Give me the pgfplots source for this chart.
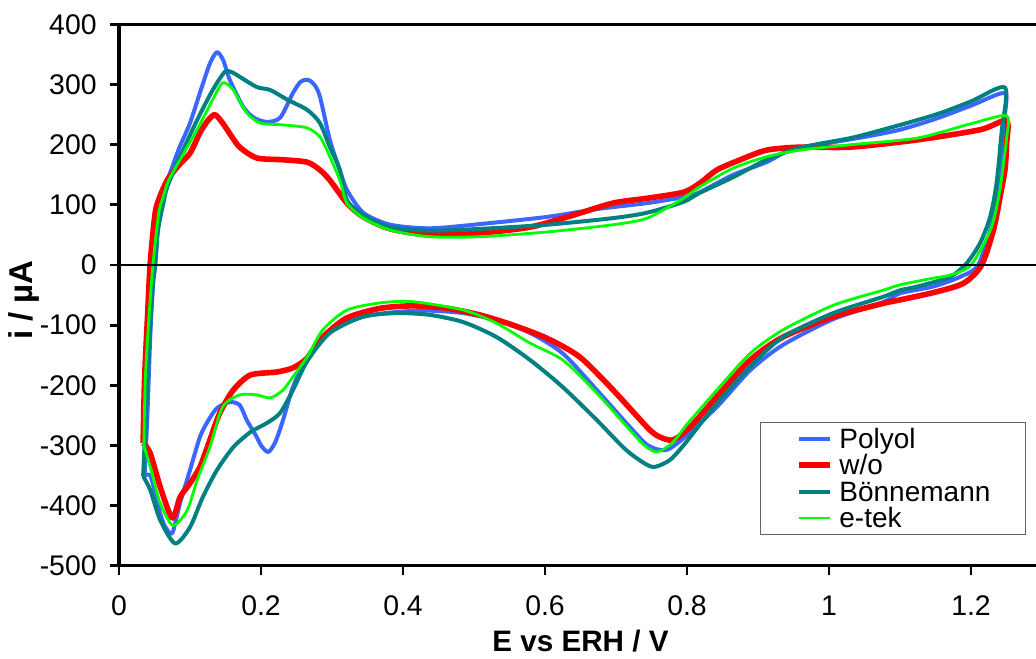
\documentclass[border=0pt]{standalone}
\usepackage{fontspec}
\setmainfont{Liberation Sans}
\usepackage{pgfplots}
\pgfplotsset{compat=1.18}
\definecolor{cPoly}{RGB}{59,102,255}
\definecolor{cWo}{RGB}{255,0,0}
\definecolor{cBon}{RGB}{0,128,128}
\definecolor{cEtek}{RGB}{0,255,0}
\definecolor{legbord}{RGB}{100,100,100}
\begin{document}
\begin{tikzpicture}
\begin{axis}[
  scale only axis,
  width=461.5pt, height=270.6pt,
  xmin=0, xmax=1.3, ymin=-500, ymax=400,
  xtick={0,0.2,0.4,0.6,0.8,1,1.2},
  xticklabels={0,0.2,0.4,0.6,0.8,1,1.2},
  ytick={-500,-400,-300,-200,-100,0,100,200,300,400},
  yticklabels={-500,-400,-300,-200,-100,0,100,200,300,400},
  axis line style={line width=1.6pt},
  tick style={line width=1.4pt, black},
  tick align=outside,
  major tick length=4.5pt,
  xtick pos=bottom, ytick pos=left,
  ticklabel style={font=\fontsize{14.2}{16}\selectfont, inner sep=0pt},
  /pgf/number format/assume math mode=true,
  yticklabel style={anchor=east, xshift=-6.5pt},
  xticklabel style={anchor=base, yshift=-20.2pt},
  xlabel={E vs ERH / V},
  ylabel={i / µA},
  xlabel style={font=\fontsize{14.8}{16}\selectfont\bfseries, at={(axis description cs:0.5,-0.1595)}, anchor=base},
  ylabel style={font=\fontsize{16.5}{18}\selectfont\bfseries, at={(axis description cs:-0.103,0.491)}, anchor=center},
  legend style={at={(axis description cs:0.9827,0.2655)}, anchor=north east,
    draw=legbord, line width=0.6pt, font=\fontsize{14}{14}\selectfont,
    inner xsep=17.5pt, inner ysep=1.5pt, row sep=0pt,
    nodes={inner sep=0pt, text height=11.5pt, text depth=1.7pt},
    cells={anchor=west}},
  legend image code/.code={\draw[#1] (0pt,0pt) -- (15.5pt,0pt); \path (19pt,0pt);},
  every axis plot/.append style={smooth, tension=0.45, line join=round},
]
\addplot[cPoly, line width=2pt] coordinates {
(0.036,-350) (0.040,-250) (0.044,-120) (0.048,-30) (0.051,0) (0.055,70) (0.062,120) (0.072,153)
(0.085,195) (0.1,236) (0.115,290) (0.128,335) (0.138,354) (0.147,340) (0.156,308) (0.175,263)
(0.19,245) (0.208,238) (0.227,245) (0.245,286) (0.256,305) (0.266,308) (0.275,300) (0.283,280)
(0.297,208) (0.311,158) (0.321,125) (0.344,87) (0.382,67) (0.438,61) (0.508,68) (0.603,80)
(0.673,93) (0.744,103) (0.795,113) (0.818,121) (0.865,150) (0.912,171) (0.945,191) (1.0,203)
(1.05,213) (1.1,225) (1.15,243) (1.2,265) (1.247,286)
(1.248,250) (1.245,180) (1.24,130) (1.23,70) (1.21,0) (1.184,-20) (1.146,-36) (1.1,-47)
(1.076,-62) (1.006,-90) (0.935,-133) (0.889,-175) (0.842,-236) (0.795,-288) (0.77,-308)
(0.745,-300) (0.72,-270) (0.673,-208) (0.625,-147) (0.579,-113) (0.532,-92) (0.485,-80)
(0.438,-76) (0.392,-78) (0.344,-86) (0.297,-108) (0.265,-153) (0.245,-203) (0.231,-258)
(0.22,-295) (0.21,-311) (0.2,-300) (0.194,-286) (0.18,-258) (0.17,-233) (0.156,-228)
(0.138,-238) (0.125,-260) (0.114,-286) (0.1,-341) (0.086,-396) (0.075,-446) (0.065,-435)
(0.058,-413) (0.05,-375) (0.044,-350) (0.036,-350)
};
\addlegendentry{Polyol}
\addplot[cWo, line width=2.8pt] coordinates {
(0.034,-296) (0.036,-191) (0.040,-90) (0.044,3) (0.051,87) (0.058,115) (0.068,141) (0.082,163)
(0.1,186) (0.114,220) (0.125,240) (0.135,250) (0.146,236) (0.158,215) (0.17,196) (0.194,178)
(0.231,175) (0.265,171) (0.283,158) (0.297,141) (0.321,103) (0.344,80) (0.382,60) (0.438,50)
(0.508,53) (0.579,63) (0.64,83) (0.696,103) (0.744,111) (0.795,121) (0.818,136) (0.842,158)
(0.875,175) (0.912,191) (0.959,196) (1.03,196) (1.124,208) (1.213,225) (1.25,240)
(1.25,200) (1.248,160) (1.242,120) (1.232,60) (1.215,0) (1.19,-30) (1.15,-45) (1.1,-58)
(1.076,-64) (1.006,-86) (0.935,-120) (0.889,-158) (0.842,-219) (0.804,-270) (0.78,-291)
(0.76,-285) (0.744,-270) (0.696,-208) (0.649,-153) (0.603,-122) (0.555,-100) (0.508,-83)
(0.462,-72) (0.414,-68) (0.368,-72) (0.321,-88) (0.287,-120) (0.265,-155) (0.245,-171)
(0.222,-178) (0.185,-183) (0.161,-208) (0.142,-246) (0.128,-291) (0.114,-336) (0.1,-363)
(0.086,-386) (0.075,-421) (0.058,-369) (0.044,-313) (0.034,-296)
};
\addlegendentry{w/o}
\addplot[cBon, line width=2pt] coordinates {
(0.034,-351) (0.038,-250) (0.043,-120) (0.048,-30) (0.051,0) (0.055,58) (0.062,100) (0.068,130)
(0.086,180) (0.11,241) (0.132,291) (0.149,321) (0.16,320) (0.17,313) (0.194,296) (0.213,291)
(0.237,275) (0.265,258) (0.283,236) (0.297,196) (0.311,158) (0.321,108) (0.344,83) (0.382,63)
(0.438,57) (0.508,60) (0.603,67) (0.696,78) (0.744,87) (0.795,105) (0.818,120) (0.865,146)
(0.912,175) (0.959,195) (1.03,211) (1.076,225) (1.15,250) (1.2,272) (1.248,295)
(1.243,220) (1.236,136) (1.227,80) (1.213,37) (1.194,3) (1.17,-20) (1.124,-36) (1.1,-42)
(1.076,-53) (1.006,-80) (0.935,-120) (0.889,-169) (0.842,-230) (0.795,-300) (0.775,-325)
(0.752,-336) (0.73,-322) (0.71,-303) (0.673,-258) (0.625,-203) (0.579,-158) (0.532,-120)
(0.485,-95) (0.438,-83) (0.392,-80) (0.344,-86) (0.297,-113) (0.265,-160) (0.245,-208)
(0.227,-246) (0.208,-263) (0.185,-278) (0.161,-303) (0.138,-341) (0.118,-386) (0.1,-436)
(0.079,-463) (0.058,-424) (0.044,-374) (0.034,-351)
};
\addlegendentry{Bönnemann}
\addplot[cEtek, line width=1.4pt] coordinates {
(0.035,-300) (0.037,-191) (0.042,-90) (0.048,3) (0.056,87) (0.062,112) (0.07,141) (0.086,175)
(0.11,225) (0.132,275) (0.146,303) (0.161,291) (0.18,253) (0.199,236) (0.231,233) (0.265,228)
(0.283,213) (0.297,180) (0.311,141) (0.321,103) (0.344,78) (0.382,58) (0.438,47) (0.508,47)
(0.603,55) (0.696,67) (0.744,78) (0.795,111) (0.818,130) (0.865,161) (0.912,180) (0.959,191)
(1.03,200) (1.124,211) (1.2,235) (1.25,248)
(1.25,210) (1.247,180) (1.24,120) (1.228,60) (1.2,0) (1.17,-17) (1.146,-22) (1.1,-33)
(1.076,-42) (1.006,-67) (0.935,-108) (0.889,-147) (0.842,-208) (0.8,-265) (0.78,-295)
(0.758,-311) (0.74,-300) (0.72,-275) (0.673,-213) (0.625,-158) (0.579,-130) (0.532,-97)
(0.485,-75) (0.414,-61) (0.368,-63) (0.321,-75) (0.287,-108) (0.265,-153) (0.245,-186)
(0.231,-208) (0.213,-221) (0.194,-216) (0.17,-216) (0.146,-236) (0.128,-303) (0.11,-358)
(0.096,-408) (0.076,-433) (0.058,-396) (0.044,-336) (0.035,-300)
};
\addlegendentry{e-tek}
\draw[black, line width=1pt] (axis cs:0,0) -- (axis cs:1.3,0);
\coordinate (bl) at (axis cs:-0.1676,-655.2);
\coordinate (tr) at (axis cs:1.29155,440.7);
\end{axis}
\pgfresetboundingbox
\useasboundingbox (bl) rectangle (tr);
\end{tikzpicture}
\end{document}
